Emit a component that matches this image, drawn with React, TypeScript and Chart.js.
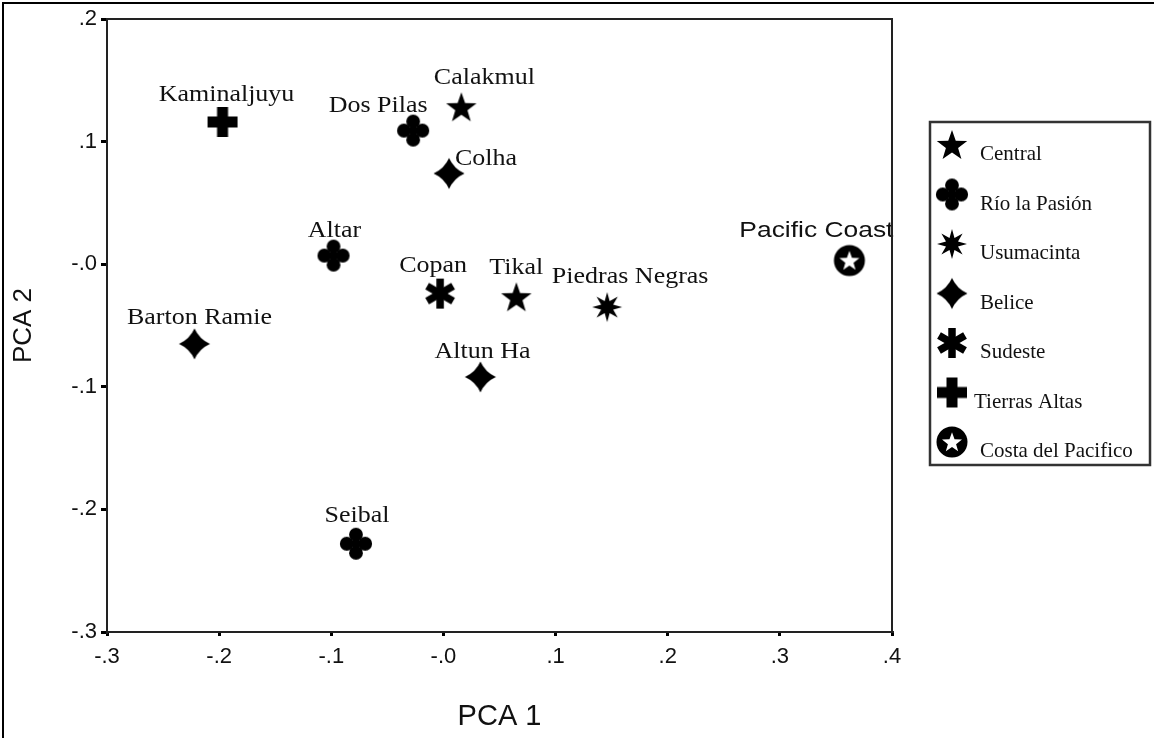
import React, { useEffect, useRef } from 'react';
import { Chart, registerables } from 'chart.js';

Chart.register(...registerables);

// ---------- data ----------
const regions = ['Central', 'Río la Pasión', 'Usumacinta', 'Belice', 'Sudeste', 'Tierras Altas', 'Costa del Pacifico'];
const regionSymbols = ['star5', 'clover', 'star8', 'diamond4', 'asterisk', 'cross', 'circleStar'];

const sites = ['Kaminaljuyu', 'Dos Pilas', 'Calakmul', 'Colha', 'Altar', 'Copan', 'Tikal', 'Piedras Negras', 'Altun Ha', 'Pacific Coast', 'Barton Ramie', 'Seibal'];
const siteRegion = ['Tierras Altas', 'Río la Pasión', 'Central', 'Belice', 'Río la Pasión', 'Sudeste', 'Central', 'Usumacinta', 'Belice', 'Costa del Pacifico', 'Belice', 'Río la Pasión'];
const pca1 = [-0.197, -0.027, 0.016, 0.005, -0.098, -0.003, 0.065, 0.146, 0.033, 0.362, -0.222, -0.078];
const pca2 = [0.116, 0.109, 0.128, 0.074, 0.007, -0.024, -0.027, -0.035, -0.092, 0.003, -0.065, -0.228];

const xTickLabels = ['-.3', '-.2', '-.1', '-.0', '.1', '.2', '.3', '.4'];
const yTickLabels = ['-.3', '-.2', '-.1', '-.0', '.1', '.2'];

// label placement relative to each point (text centre x offset, baseline y offset)
const labelOffsets: Record<string, [number, number]> = {
  'Kaminaljuyu': [4, -21],
  'Dos Pilas': [-35, -19],
  'Calakmul': [23, -23],
  'Colha': [37, -8],
  'Altar': [1, -19],
  'Copan': [-7, -22],
  'Tikal': [0, -23],
  'Piedras Negras': [23, -24],
  'Altun Ha': [2, -19],
  'Pacific Coast': [-33, -24],
  'Barton Ramie': [5, -20],
  'Seibal': [1, -22],
};

// ---------- symbols ----------
function starPath(ctx: CanvasRenderingContext2D, n: number, outer: number, inner: number) {
  ctx.beginPath();
  for (let i = 0; i < n * 2; i++) {
    const r = i % 2 === 0 ? outer : inner;
    const a = -Math.PI / 2 + (i * Math.PI) / n;
    const px = Math.cos(a) * r;
    const py = Math.sin(a) * r;
    if (i === 0) ctx.moveTo(px, py);
    else ctx.lineTo(px, py);
  }
  ctx.closePath();
}

function makeSymbol(kind: string): HTMLCanvasElement {
  const c = document.createElement('canvas');
  c.width = 36;
  c.height = 36;
  const ctx = c.getContext('2d') as CanvasRenderingContext2D;
  ctx.translate(18, 18);
  ctx.fillStyle = '#000';
  ctx.strokeStyle = '#000';
  if (kind === 'star5') {
    ctx.translate(0, 1);
    starPath(ctx, 5, 16, 6.4);
    ctx.fill();
  } else if (kind === 'clover') {
    const d = 9.2;
    const r = 6.9;
    [[0, -d], [d, 0], [0, d], [-d, 0]].forEach(([px, py]) => {
      ctx.beginPath();
      ctx.arc(px, py, r, 0, Math.PI * 2);
      ctx.fill();
    });
    ctx.fillRect(-3, -3, 6, 6);
  } else if (kind === 'star8') {
    starPath(ctx, 8, 15, 6.5);
    ctx.fill();
  } else if (kind === 'diamond4') {
    const R = 15.5;
    const k = 4.8;
    ctx.beginPath();
    ctx.moveTo(0, -R);
    ctx.quadraticCurveTo(k, -k, R, 0);
    ctx.quadraticCurveTo(k, k, 0, R);
    ctx.quadraticCurveTo(-k, k, -R, 0);
    ctx.quadraticCurveTo(-k, -k, 0, -R);
    ctx.closePath();
    ctx.fill();
  } else if (kind === 'asterisk') {
    ctx.lineWidth = 7.5;
    ctx.lineCap = 'butt';
    [90, 30, 150].forEach((deg) => {
      const a = (deg * Math.PI) / 180;
      ctx.beginPath();
      ctx.moveTo(Math.cos(a) * 15, Math.sin(a) * 15);
      ctx.lineTo(-Math.cos(a) * 15, -Math.sin(a) * 15);
      ctx.stroke();
    });
  } else if (kind === 'cross') {
    ctx.fillRect(-15, -5.5, 30, 11);
    ctx.fillRect(-5.5, -15, 11, 30);
  } else if (kind === 'circleStar') {
    ctx.beginPath();
    ctx.arc(0, 0, 15.5, 0, Math.PI * 2);
    ctx.fill();
    ctx.fillStyle = '#fff';
    ctx.translate(0, 0.8);
    starPath(ctx, 5, 10.5, 4.3);
    ctx.fill();
  }
  return c;
}

export default function App() {
  const canvasRef = useRef<HTMLCanvasElement | null>(null);

  useEffect(() => {
    document.body.style.margin = '0';
    const canvas = canvasRef.current;
    if (!canvas) return;

    const symbols = regionSymbols.map(makeSymbol);

    const datasets = regions.map((r, ri) => ({
      label: r,
      data: sites
        .map((s, i) => ({ x: pca1[i], y: pca2[i], site: s, region: siteRegion[i] }))
        .filter((p) => p.region === r),
      pointStyle: symbols[ri] as any,
      pointRadius: 15,
      pointHoverRadius: 15,
      showLine: false,
    }));

    const framePlugin = {
      id: 'frameAndLegend',
      afterDraw(chart: any) {
        const { ctx, chartArea } = chart;
        ctx.save();
        // plot box top & right
        ctx.strokeStyle = '#222';
        ctx.lineWidth = 2;
        ctx.beginPath();
        ctx.moveTo(chartArea.left, chartArea.top);
        ctx.lineTo(chartArea.right, chartArea.top);
        ctx.lineTo(chartArea.right, chartArea.bottom);
        ctx.stroke();
        // outer frame (left & top)
        ctx.strokeStyle = '#000';
        ctx.lineWidth = 2;
        ctx.beginPath();
        ctx.moveTo(3, 738);
        ctx.lineTo(3, 3);
        ctx.lineTo(1154, 3);
        ctx.stroke();
        // legend box
        ctx.strokeStyle = '#333';
        ctx.lineWidth = 2.5;
        ctx.strokeRect(930, 122, 220, 343);
        // legend entries
        ctx.fillStyle = '#111';
        ctx.font = '21px "Liberation Serif", "Times New Roman", serif';
        ctx.textAlign = 'left';
        ctx.textBaseline = 'alphabetic';
        regions.forEach((r, i) => {
          const cy = 145 + i * 49.5;
          ctx.drawImage(symbols[i], 952 - 18, cy - 18);
          ctx.fillText(r, i === 5 ? 974 : 980, cy + 15);
        });
        ctx.restore();
      },
      afterDatasetsDraw(chart: any) {
        const { ctx } = chart;
        ctx.save();
        ctx.fillStyle = '#111';
        ctx.textAlign = 'center';
        ctx.textBaseline = 'alphabetic';
        chart.data.datasets.forEach((ds: any, di: number) => {
          const meta = chart.getDatasetMeta(di);
          meta.data.forEach((el: any, j: number) => {
            const site = ds.data[j].site as string;
            const off = labelOffsets[site] || [0, -20];
            const isSans = site === 'Pacific Coast';
            ctx.save();
            ctx.translate(el.x + off[0], el.y + off[1]);
            if (isSans) {
              ctx.font = '22px "Liberation Sans", Arial, sans-serif';
              ctx.scale(1.2, 1);
            } else {
              ctx.font = '23px "Liberation Serif", "Times New Roman", serif';
              ctx.scale(1.13, 1);
            }
            ctx.fillText(site, 0, 0);
            ctx.restore();
          });
        });
        ctx.restore();
      },
    };

    const chart = new Chart(canvas, {
      type: 'scatter',
      data: { datasets } as any,
      options: {
        responsive: false,
        animation: false,
        devicePixelRatio: 1,
        events: [],
        layout: { padding: { left: 0, top: 19, right: 262, bottom: 0 } },
        plugins: {
          legend: { display: false },
          tooltip: { enabled: false },
        },
        scales: {
          x: {
            type: 'linear',
            min: -0.3,
            max: 0.4,
            afterFit: (s: any) => {
              s.height = 106;
            },
            ticks: {
              stepSize: 0.1,
              autoSkip: false,
              maxRotation: 0,
              padding: 8,
              color: '#111',
              font: { family: '"Liberation Sans", Arial, sans-serif', size: 22 },
              callback: (v: any) => xTickLabels[Math.round(Number(v) * 10) + 3],
            },
            grid: {
              display: true,
              drawOnChartArea: false,
              drawTicks: true,
              tickLength: 4,
              lineWidth: 3,
              color: '#000',
            },
            border: { display: true, color: '#222', width: 2 },
            title: {
              display: true,
              text: 'PCA 1',
              color: '#111',
              font: { family: '"Liberation Sans", Arial, sans-serif', size: 29 },
              padding: { top: 0, bottom: 4 },
            },
          },
          y: {
            type: 'linear',
            min: -0.3,
            max: 0.2,
            afterFit: (s: any) => {
              s.width = 107;
            },
            ticks: {
              stepSize: 0.1,
              autoSkip: false,
              padding: 4,
              color: '#111',
              font: { family: '"Liberation Sans", Arial, sans-serif', size: 22 },
              callback: (v: any) => yTickLabels[Math.round(Number(v) * 10) + 3],
            },
            grid: {
              display: true,
              drawOnChartArea: false,
              drawTicks: true,
              tickLength: 6,
              lineWidth: 3,
              color: '#000',
            },
            border: { display: true, color: '#222', width: 2 },
            title: {
              display: true,
              text: 'PCA 2',
              color: '#111',
              font: { family: '"Liberation Sans", Arial, sans-serif', size: 26 },
              padding: { top: 8, bottom: 0 },
            },
          },
        },
      } as any,
      plugins: [framePlugin],
    });

    return () => {
      chart.destroy();
    };
  }, []);

  return (
    <div style={{ width: 1154, height: 738, position: 'relative', background: '#fff' }}>
      <canvas ref={canvasRef} width={1154} height={738} style={{ display: 'block' }} />
    </div>
  );
}
